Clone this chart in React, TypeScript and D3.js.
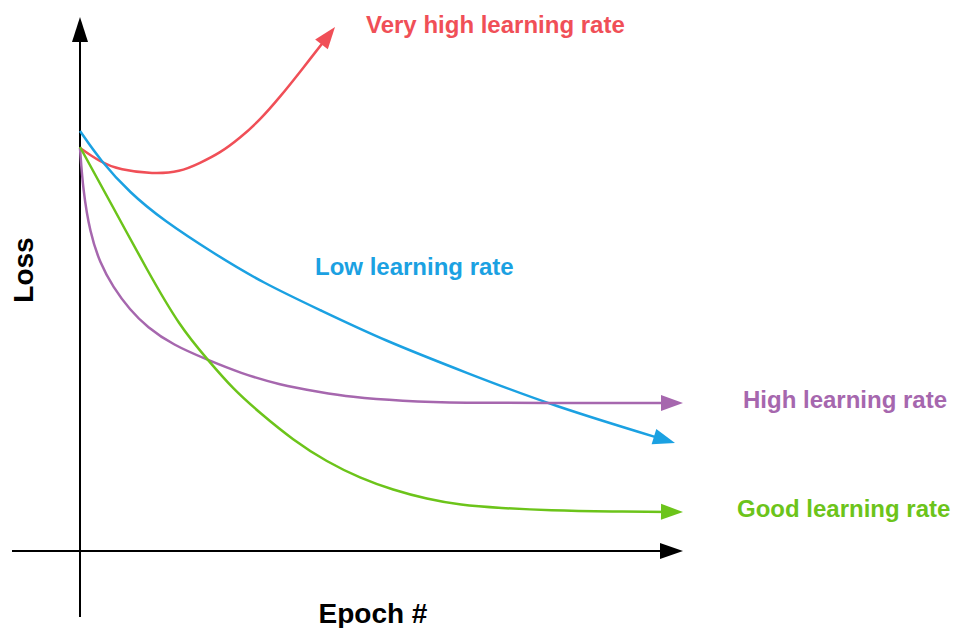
import React from "react";
import * as d3 from "d3";

const W = 954;
const H = 628;

// epoch (0..100) and loss (0..100) in arbitrary units
const redX = [0, 3.33, 6.67, 12.17, 16.67, 20, 23.33, 26.67, 30, 33.33, 36.67, 42.5];
const redY = [100.75, 97.25, 95.25, 94.25, 94.75, 97, 99.5, 103.25, 107.75, 113.5, 119.75, 131];

const blueX = [0, 3.33, 8.33, 13.83, 22.17, 30.5, 40, 50.5, 64.5, 78.33, 99.17];
const blueY = [105, 97.75, 89.5, 82.75, 74.5, 67, 60.25, 52.75, 44.5, 36.5, 27];

const greenX = [0, 5.5, 11.17, 16.67, 21.33, 25.5, 30, 35.5, 41.17, 46.67, 52.17, 57.83, 63.33, 70, 78.33, 88.33, 100.5];
const greenY = [101, 86, 70.25, 56, 47.75, 40.5, 34.5, 27.75, 22.25, 18.25, 15.25, 13, 11.5, 10.75, 10.125, 9.875, 9.75];

const purpleX = [0, 0.5, 1.67, 3.33, 5.5, 8.33, 11.17, 15.5, 21.33, 26.67, 33.33, 40, 45, 53.33, 64.5, 75.5, 100.5];
const purpleY = [100.75, 90.25, 79.5, 72, 66, 60.25, 56, 51.5, 47.75, 44.5, 41.5, 39.75, 38.5, 37.5, 37, 37, 37];

const seriesNames = ["Very high learning rate", "Low learning rate", "High learning rate", "Good learning rate"];
const colors = ["#f04f57", "#1ba1e2", "#a667ae", "#6cc41a"];

const xScale = d3.scaleLinear().domain([0, 100]).range([80, 680]);
const yScale = d3.scaleLinear().domain([0, 100]).range([551, 151]);

const zip = (xs: number[], ys: number[]) => xs.map((x, i) => [x, ys[i]] as [number, number]);

const series = [
  { name: seriesNames[0], pts: zip(redX, redY), color: colors[0], label: [366, 33] },
  { name: seriesNames[1], pts: zip(blueX, blueY), color: colors[1], label: [315, 275] },
  { name: seriesNames[2], pts: zip(purpleX, purpleY), color: colors[2], label: [743, 408] },
  { name: seriesNames[3], pts: zip(greenX, greenY), color: colors[3], label: [737, 517] },
];

const line = d3
  .line<[number, number]>()
  .x((d) => xScale(d[0]))
  .y((d) => yScale(d[1]))
  .curve(d3.curveBasis);

const font = "'Liberation Sans', Arial, Helvetica, sans-serif";

function arrowHead(tip: [number, number], from: [number, number], len = 22, half = 8) {
  const dx = tip[0] - from[0];
  const dy = tip[1] - from[1];
  const l = Math.hypot(dx, dy) || 1;
  const ux = dx / l, uy = dy / l;
  const bx = tip[0] - ux * len, by = tip[1] - uy * len;
  const px = -uy * half, py = ux * half;
  return `M${tip[0]},${tip[1]}L${bx + px},${by + py}L${bx - px},${by - py}Z`;
}

export default function App() {
  const x0 = xScale(0);
  const y0 = yScale(0);
  return (
    <svg width={W} height={H} style={{ position: "absolute", left: 0, top: 0, background: "#fff" }}>
      {/* axes */}
      <line x1={x0} y1={617} x2={x0} y2={40} stroke="#000" strokeWidth={2} />
      <path d={arrowHead([x0, 17], [x0, 60], 25, 8)} fill="#000" />
      <line x1={12} y1={y0} x2={662} y2={y0} stroke="#000" strokeWidth={2} />
      <path d={arrowHead([683, y0], [600, y0], 23, 8)} fill="#000" />

      {series.map((s, i) => {
        const n = s.pts.length;
        const tip: [number, number] = [xScale(s.pts[n - 1][0]), yScale(s.pts[n - 1][1])];
        const prev = s.pts[n - 2];
        const prevPx: [number, number] = [xScale(prev[0]), yScale(prev[1])];
        return (
          <g key={i}>
            <path
              d={line(s.pts) || ""}
              fill="none"
              stroke={s.color}
              strokeWidth={2.5}
              ref={(el) => {
                if (el) {
                  const L = el.getTotalLength();
                  el.setAttribute("stroke-dasharray", `${L - 12} ${L}`);
                }
              }}
            />
            <path d={arrowHead(tip, prevPx, 22, 8)} fill={s.color} />
            <text
              x={s.label[0]}
              y={s.label[1]}
              fill={s.color}
              fontFamily={font}
              fontWeight="bold"
              fontSize={24}
            >
              {s.name}
            </text>
          </g>
        );
      })}

      <text x={373} y={623} textAnchor="middle" fontFamily={font} fontWeight="bold" fontSize={28} fill="#000">
        Epoch #
      </text>
      <text
        transform="translate(33,270) rotate(-90)"
        textAnchor="middle"
        fontFamily={font}
        fontWeight="bold"
        fontSize={28}
        fill="#000"
      >
        Loss
      </text>
    </svg>
  );
}
